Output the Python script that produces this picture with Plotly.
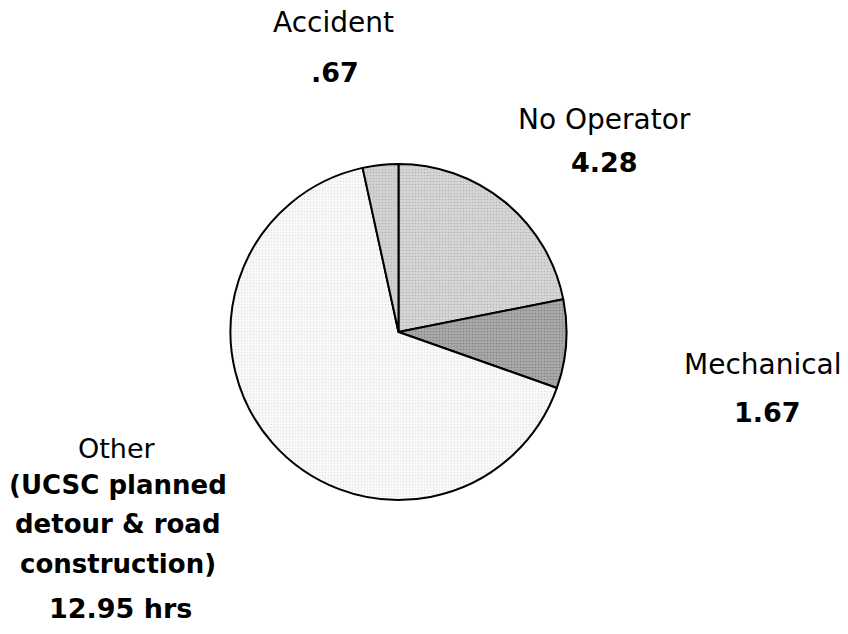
import plotly.graph_objects as go

categories = ["No Operator", "Mechanical", "Other", "Accident"]
values = [4.28, 1.67, 12.95, 0.67]
value_labels = ["4.28", "1.67", "12.95 hrs", ".67"]
other_detail = ["(UCSC planned", "detour &amp; road", "construction)"]

colors = ["#d6d6d6", "#a9a9a9", "#f9f9f9", "#d2d2d2"]
dots = ["#9a9a9a", "#606060", "#cfcfcf", "#9a9a9a"]

W, H = 848, 634
cx, cy, r = 398.5, 332, 168

fig = go.Figure(go.Pie(
    labels=categories,
    values=values,
    sort=False,
    direction="clockwise",
    rotation=0,
    textinfo="none",
    hoverinfo="label+value",
    marker=dict(
        colors=colors,
        line=dict(color="#000000", width=2),
        pattern=dict(shape=".", fillmode="overlay", bgcolor=colors, fgcolor=dots,
                     size=3, solidity=0.25),
    ),
    domain=dict(x=[(cx - r) / W, (cx + r) / W], y=[(H - cy - r) / H, (H - cy + r) / H]),
    showlegend=False,
))

FONT = "DejaVu Sans"

def ann(text, x, y, size=28, bold=False):
    t = f"<b>{text}</b>" if bold else text
    fig.add_annotation(text=t, x=x / W, y=1 - y / H, xref="paper", yref="paper",
                       xanchor="center", yanchor="middle", showarrow=False,
                       font=dict(family=FONT, size=size, color="#000000"))

# Accident
ann(categories[3], 333, 22)
ann(value_labels[3], 335, 73, 27, True)
# No Operator
ann(categories[0], 604, 120)
ann(value_labels[0], 604, 163, 27, True)
# Mechanical
ann(categories[1], 763, 364)
ann(value_labels[1], 767, 412, 27, True)
# Other
ann(categories[2], 117, 448, 27)
ys = [485, 524, 564]
for line, yy in zip(other_detail, ys):
    ann(line, 118, yy, 26, True)
ann(value_labels[2], 120, 608, 27, True)

fig.update_layout(
    width=W, height=H,
    margin=dict(l=0, r=0, t=0, b=0),
    paper_bgcolor="#ffffff",
    plot_bgcolor="#ffffff",
)

fig.write_html("out.html",
               config={"displayModeBar": False},
               post_script="document.body.style.margin='0';document.body.style.overflow='hidden';")
